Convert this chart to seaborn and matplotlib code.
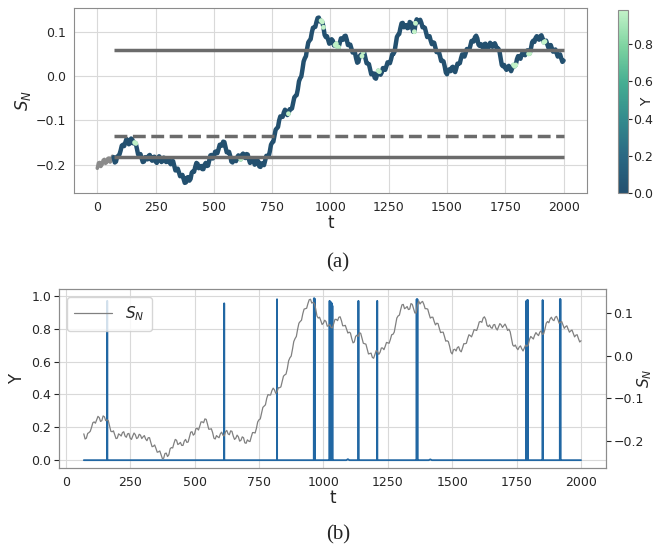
import numpy as np
import pandas as pd
import matplotlib
matplotlib.use("Agg")
import matplotlib.pyplot as plt
import seaborn as sns
from matplotlib.colors import LinearSegmentedColormap, Normalize
from matplotlib.cm import ScalarMappable

# ---------------- data ----------------
t_start, t_stop, t_step = 0, 2000, 10
# S_N at t = 0, 10, ..., 2000
S_N = [
    -0.208, -0.195, -0.200, -0.188, -0.195, -0.185, -0.190, -0.183, -0.193, -0.180,
    -0.168, -0.155, -0.150, -0.145, -0.152, -0.143, -0.150, -0.165, -0.178, -0.185,
    -0.193, -0.185, -0.180, -0.188, -0.183, -0.193, -0.188, -0.185, -0.192, -0.186,
    -0.190, -0.195, -0.192, -0.203, -0.212, -0.217, -0.225, -0.232, -0.240, -0.228,
    -0.232, -0.215, -0.205, -0.198, -0.206, -0.210, -0.200, -0.203, -0.190, -0.178,
    -0.183, -0.170, -0.165, -0.155, -0.148, -0.160, -0.172, -0.180, -0.195, -0.190,
    -0.183, -0.186, -0.178, -0.183, -0.176, -0.188, -0.193, -0.190, -0.198, -0.192,
    -0.205, -0.200, -0.190, -0.180, -0.170, -0.150, -0.135, -0.118, -0.100, -0.092,
    -0.082, -0.080, -0.085, -0.075, -0.060, -0.045, -0.030, -0.005, 0.015, 0.040,
    0.062, 0.080, 0.098, 0.110, 0.122, 0.132, 0.125, 0.110, 0.088, 0.082,
    0.076, 0.080, 0.070, 0.066, 0.075, 0.085, 0.090, 0.082, 0.070, 0.062,
    0.055, 0.040, 0.032, 0.048, 0.054, 0.040, 0.028, 0.015, 0.005, -0.004,
    0.003, 0.010, 0.008, 0.018, 0.022, 0.030, 0.038, 0.050, 0.072, 0.093,
    0.108, 0.120, 0.112, 0.108, 0.122, 0.110, 0.100, 0.128, 0.125, 0.120,
    0.110, 0.098, 0.090, 0.080, 0.076, 0.064, 0.055, 0.045, 0.035, 0.022,
    0.004, 0.015, 0.019, 0.012, 0.018, 0.028, 0.040, 0.047, 0.052, 0.060,
    0.068, 0.080, 0.088, 0.085, 0.068, 0.066, 0.072, 0.064, 0.068, 0.072,
    0.070, 0.068, 0.062, 0.040, 0.022, 0.018, 0.020, 0.016, 0.018, 0.022,
    0.038, 0.042, 0.048, 0.050, 0.055, 0.050, 0.062, 0.080, 0.086, 0.084,
    0.090, 0.085, 0.078, 0.072, 0.068, 0.062, 0.058, 0.052, 0.048, 0.040,
    0.035,
]
# S_N at t = 5, 15, ..., 1995 (the fast wiggles between the points above)
S_N_mid = [
    -0.196, -0.204, -0.190, -0.197, -0.186, -0.194, -0.181, -0.195, -0.182, -0.177,
    -0.157, -0.158, -0.142, -0.154, -0.141, -0.152, -0.152, -0.177, -0.176, -0.194,
    -0.183, -0.188, -0.178, -0.191, -0.182, -0.196, -0.181, -0.194, -0.184, -0.194,
    -0.187, -0.199, -0.192, -0.213, -0.209, -0.226, -0.223, -0.241, -0.229, -0.236,
    -0.218, -0.216, -0.196, -0.208, -0.203, -0.210, -0.196, -0.202, -0.179, -0.186,
    -0.171, -0.174, -0.155, -0.157, -0.149, -0.172, -0.171, -0.193, -0.187, -0.192,
    -0.179, -0.188, -0.175, -0.185, -0.177, -0.196, -0.186, -0.200, -0.190, -0.204,
    -0.197, -0.201, -0.180, -0.181, -0.155, -0.148, -0.121, -0.115, -0.091, -0.092,
    -0.076, -0.088, -0.075, -0.073, -0.048, -0.043, -0.012, -0.001, 0.033, 0.045,
    0.076, 0.083, 0.109, 0.111, 0.131, 0.123, 0.122, 0.093, 0.090, 0.073,
    0.083, 0.069, 0.073, 0.065, 0.085, 0.082, 0.091, 0.070, 0.071, 0.053,
    0.053, 0.030, 0.045, 0.045, 0.052, 0.029, 0.027, 0.004, 0.006, -0.006,
    0.012, 0.003, 0.018, 0.014, 0.031, 0.029, 0.049, 0.055, 0.088, 0.095,
    0.119, 0.110, 0.115, 0.109, 0.120, 0.100, 0.119, 0.121, 0.127, 0.110,
    0.109, 0.088, 0.090, 0.072, 0.075, 0.054, 0.055, 0.034, 0.033, 0.008,
    0.014, 0.011, 0.021, 0.009, 0.028, 0.029, 0.049, 0.044, 0.061, 0.059,
    0.079, 0.078, 0.091, 0.071, 0.072, 0.064, 0.073, 0.060, 0.075, 0.066,
    0.074, 0.059, 0.056, 0.025, 0.025, 0.014, 0.023, 0.011, 0.025, 0.025,
    0.045, 0.039, 0.054, 0.047, 0.058, 0.051, 0.076, 0.077, 0.090, 0.082,
    0.092, 0.076, 0.080, 0.064, 0.070, 0.055, 0.060, 0.044, 0.049, 0.032,
]
Y_first_t = 70          # Y (and the bottom S_N curve) start here
spike_t = [161, 615, 820, 963, 965, 967, 1024, 1027, 1030, 1033, 1035,
           1095, 1136, 1209, 1362, 1365, 1415, 1788, 1791, 1794, 1851, 1918, 1920]
spike_h = [0.97, 0.955, 0.98, 0.985, 0.985, 0.98, 0.97, 0.965, 0.96, 0.955, 0.94,
           0.006, 0.97, 0.97, 0.98, 0.98, 0.005, 0.97, 0.975, 0.975, 0.975, 0.98, 0.98]
level_values = [0.058, -0.135, -0.183]
level_styles = ["-", "--", "-"]

# ---------------- frames ----------------
t_main = np.arange(t_start, t_stop + 1, t_step)
t_mid = t_main[:-1] + t_step / 2
df = pd.concat([pd.DataFrame({"t": t_main, "S_N": S_N}),
                pd.DataFrame({"t": t_mid, "S_N": S_N_mid})])
df = df.sort_values("t").reset_index(drop=True)
sp_t = np.array(spike_t, dtype=float)
sp_h = np.array(spike_h, dtype=float)
yg = []
for tt in df["t"]:
    if tt < Y_first_t:
        yg.append(np.nan)
    else:
        near = sp_h[(np.abs(sp_t - tt) <= 4) & (sp_h > 0.1)]
        yg.append(near.max() if near.size else 0.0)
df["Y"] = yg

# Y series for bottom panel
yt, yv = [Y_first_t], [0.0]
for st, sh in sorted(zip(spike_t, spike_h)):
    w = 6 if sh < 0.1 else 0.4
    yt += [st - w, st, st + w]
    yv += [0.0, sh, 0.0]
yt.append(t_stop); yv.append(0.0)
dfY = pd.DataFrame({"t": yt, "Y": yv})

# ---------------- style ----------------
sns.set_style("whitegrid", {"axes.edgecolor": "0.55", "grid.color": "0.85"})
plt.rcParams["font.family"] = ["DejaVu Sans"]

cmap = LinearSegmentedColormap.from_list(
    "ymap", ["#23506f", "#2a6883", "#338a8d", "#45ad92", "#7dd3a0", "#c4f3c9"])
norm = Normalize(vmin=0.0, vmax=max(spike_h))

fig = plt.figure(figsize=(6.55, 5.5), dpi=100)
ax1 = fig.add_axes([0.113, 0.649, 0.783, 0.336])
cax = fig.add_axes([0.9435, 0.649, 0.0153, 0.333])
ax2 = fig.add_axes([0.090, 0.149, 0.835, 0.3255])

# ---- top panel ----
pre = df[df["t"] <= Y_first_t]
post = df[df["t"] >= Y_first_t]
sns.lineplot(data=pre, x="t", y="S_N", ax=ax1, color="#8a8a8a", lw=2.6,
             estimator=None, sort=False)
sns.lineplot(data=post, x="t", y="S_N", ax=ax1, color=cmap(0.0), lw=3.2,
             estimator=None, sort=False)
hot = post[post["Y"] > 0]
ax1.scatter(hot["t"], hot["S_N"], c=hot["Y"], cmap=cmap, norm=norm, s=12,
            edgecolors="none", zorder=3)
for lv, ls in zip(level_values, level_styles):
    ax1.hlines(lv, Y_first_t, t_stop, colors="#6b6b6b", linestyles=ls, lw=2.5, zorder=4)
ax1.set_xlim(-100, 2100)
ax1.set_ylim(-0.264, 0.153)
ax1.set_xticks([0, 250, 500, 750, 1000, 1250, 1500, 1750, 2000])
ax1.set_yticks([-0.2, -0.1, 0.0, 0.1])
ax1.tick_params(labelsize=9, pad=2)
ax1.set_xlabel("t", fontsize=12, labelpad=0)
ax1.set_ylabel(r"$S_N$", fontsize=12, labelpad=2)

cb = fig.colorbar(ScalarMappable(norm=norm, cmap=cmap), cax=cax)
cb.set_ticks([0.0, 0.2, 0.4, 0.6, 0.8])
cb.ax.tick_params(labelsize=9, length=3, width=0.8, pad=1)
cb.outline.set_edgecolor("0.55")
cb.set_label("Y", fontsize=10, labelpad=-10)

# ---- bottom panel ----
sns.lineplot(data=dfY, x="t", y="Y", ax=ax2, color="#2167a3", lw=1.3,
             estimator=None, sort=False)
ax2.set_ylim(-0.048, 1.042)
ax2.set_xticks([0, 250, 500, 750, 1000, 1250, 1500, 1750, 2000])
ax2.set_yticks([0.0, 0.2, 0.4, 0.6, 0.8, 1.0])
ax2.tick_params(labelsize=9, pad=2)
ax2.set_xlabel("t", fontsize=12, labelpad=0)
ax2.set_ylabel("Y", fontsize=12, labelpad=4)

ax3 = ax2.twinx()
sns.lineplot(data=post, x="t", y="S_N", ax=ax3, color="gray", lw=0.9,
             estimator=None, sort=False, label=r"$S_N$")
ax3.grid(False)
ax3.set_ylim(-0.263, 0.156)
ax3.set_yticks([-0.2, -0.1, 0.0, 0.1])
ax3.tick_params(axis="y", labelsize=9, length=3.5, width=0.8, right=True, pad=2)
ax3.set_ylabel(r"$S_N$", fontsize=11, labelpad=-6)
ax2.set_xlim(-26.5, 2096.5)
ax3.legend(loc="upper left", fontsize=11, frameon=True, handlelength=2.5,
           borderpad=0.5)

fig.text(0.516, 0.522, "(a)", ha="center", va="center", fontsize=15,
         family=["Liberation Serif"])
fig.text(0.516, 0.027, "(b)", ha="center", va="center", fontsize=15,
         family=["Liberation Serif"])

fig.savefig("out.png", dpi=100)
